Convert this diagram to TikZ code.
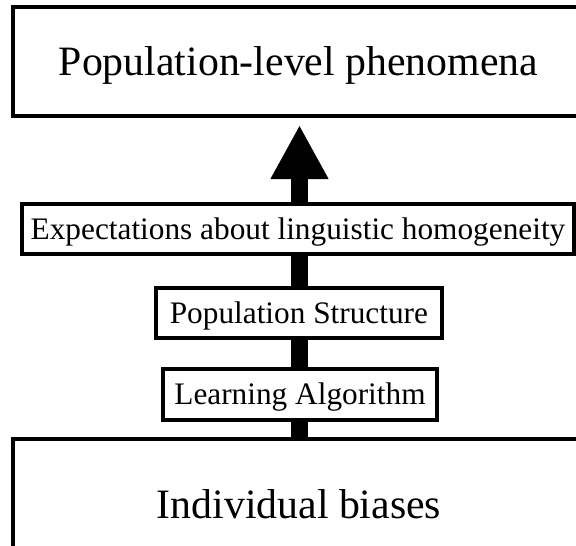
\documentclass[tikz,border=0pt]{standalone}
\usepackage{fontspec}
\setmainfont{Liberation Serif}
\usetikzlibrary{arrows.meta}
\usetikzlibrary{backgrounds}
\tikzstyle{levelbox}=[draw, line width=4pt, fill=white, inner sep=0pt, text depth=0pt]
\tikzstyle{bigtext}=[font=\fontsize{41.8}{50}\selectfont, text height=27.7pt]
\tikzstyle{smalltext}=[font=\fontsize{31.3}{38}\selectfont, text height=20.7pt]
\tikzstyle{uparrow}=[line width=17.6pt, -{Triangle[width=54pt,length=54pt]}]

\begin{document}
\begin{tikzpicture}[x=1pt,y=-1pt]
		\useasboundingbox (0,0) rectangle (576,546);
		\clip (0,0) rectangle (576,546);
		\node[levelbox,bigtext,minimum width=571pt,minimum height=109pt] (phen) at (298.5,61.5) {Population-level phenomena};
		\node[levelbox,smalltext,minimum width=552pt,minimum height=50pt] (expect) at (298,228.7) {Expectations about linguistic homogeneity};
		\node[levelbox,smalltext,minimum width=285.7pt,minimum height=50pt] (popstruct) at (298.9,313) {Population Structure};
		\node[levelbox,smalltext,minimum width=274pt,minimum height=51pt] (learnalg) at (300,394) {Learning Algorithm};
		\node[levelbox,bigtext,minimum width=572pt,minimum height=132pt] (indiv) at (299,505) {Individual biases};
		\coordinate (tip) at (299.5,125);
		\begin{scope}[on background layer]
		\draw[uparrow] (indiv.north -| tip) -- (tip);
		\end{scope}
\end{tikzpicture}
\end{document}
